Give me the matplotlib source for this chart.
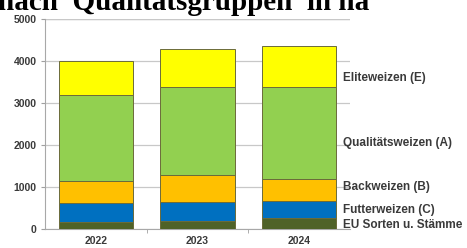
import matplotlib.pyplot as plt
import numpy as np

# data (ha)
years = ["2022", "2023", "2024"]
groups = ["EU Sorten u. Stämme", "Futterweizen (C)", "Backweizen (B)",
          "Qualitätsweizen (A)", "Eliteweizen (E)"]
eu = [180, 205, 275]
futter = [440, 440, 405]
back = [540, 650, 510]
qualitaet = [2040, 2080, 2205]
elite = [800, 915, 955]
colors = ["#4f6228", "#0070c0", "#ffc000", "#92d050", "#ffff00"]

# where the right-hand labels sit (in data units)
label_y = [100, 460, 1000, 2055, 3600]

fig = plt.figure(figsize=(4.67, 2.48), dpi=100)
ax = fig.add_axes([45 / 467, 1 - 229.3 / 248, 305 / 467, 210.3 / 248])

x = np.arange(len(years))
bottom = np.zeros(len(years))
for vals, c in zip([eu, futter, back, qualitaet, elite], colors):
    ax.bar(x, vals, width=0.73, bottom=bottom, color=c,
           edgecolor="#6b6b3a", linewidth=0.7, zorder=3)
    bottom += np.array(vals)

ax.set_xlim(-0.5, 2.5)
ax.set_ylim(0, 5000)
ax.set_yticks(range(0, 5001, 1000))
ax.yaxis.grid(True, color="#c8c8c8", linewidth=0.9, zorder=0)
ax.axhline(5000, color="#b4b4b4", linewidth=1.6, zorder=1)

ax.set_xticks(x)
ax.set_xticklabels(years)
ax.set_xticks([0.5, 1.5], minor=True)
ax.tick_params(axis="x", which="major", length=0, pad=5)
ax.tick_params(axis="x", which="minor", length=3, color="#a0a0a0")
ax.tick_params(axis="y", length=3, color="#a0a0a0", pad=3)
for lab in ax.get_xticklabels() + ax.get_yticklabels():
    lab.set_fontsize(7.5)
    lab.set_fontweight("bold")
    lab.set_color("#3a3a3a")
    lab.set_family("Liberation Sans")

for s in ["top", "right"]:
    ax.spines[s].set_visible(False)
ax.spines["left"].set_color("#a8a8a8")
ax.spines["bottom"].set_color("#a8a8a8")

# labels on the right
for name, yv in zip(groups, label_y):
    ax.text(2.43, yv, name, fontsize=8.5, fontweight="bold",
            family="Liberation Sans", color="#3a3a3a", va="center", ha="left",
            clip_on=False)

# cut-off heading at the top
fig.text(-0.005, 1 - 10.5 / 248, "nach  Qualitätsgruppen  in ha", fontsize=21,
         fontweight="bold", family="Liberation Serif", color="black",
         va="baseline", ha="left")

fig.savefig("out.png", dpi=100)
